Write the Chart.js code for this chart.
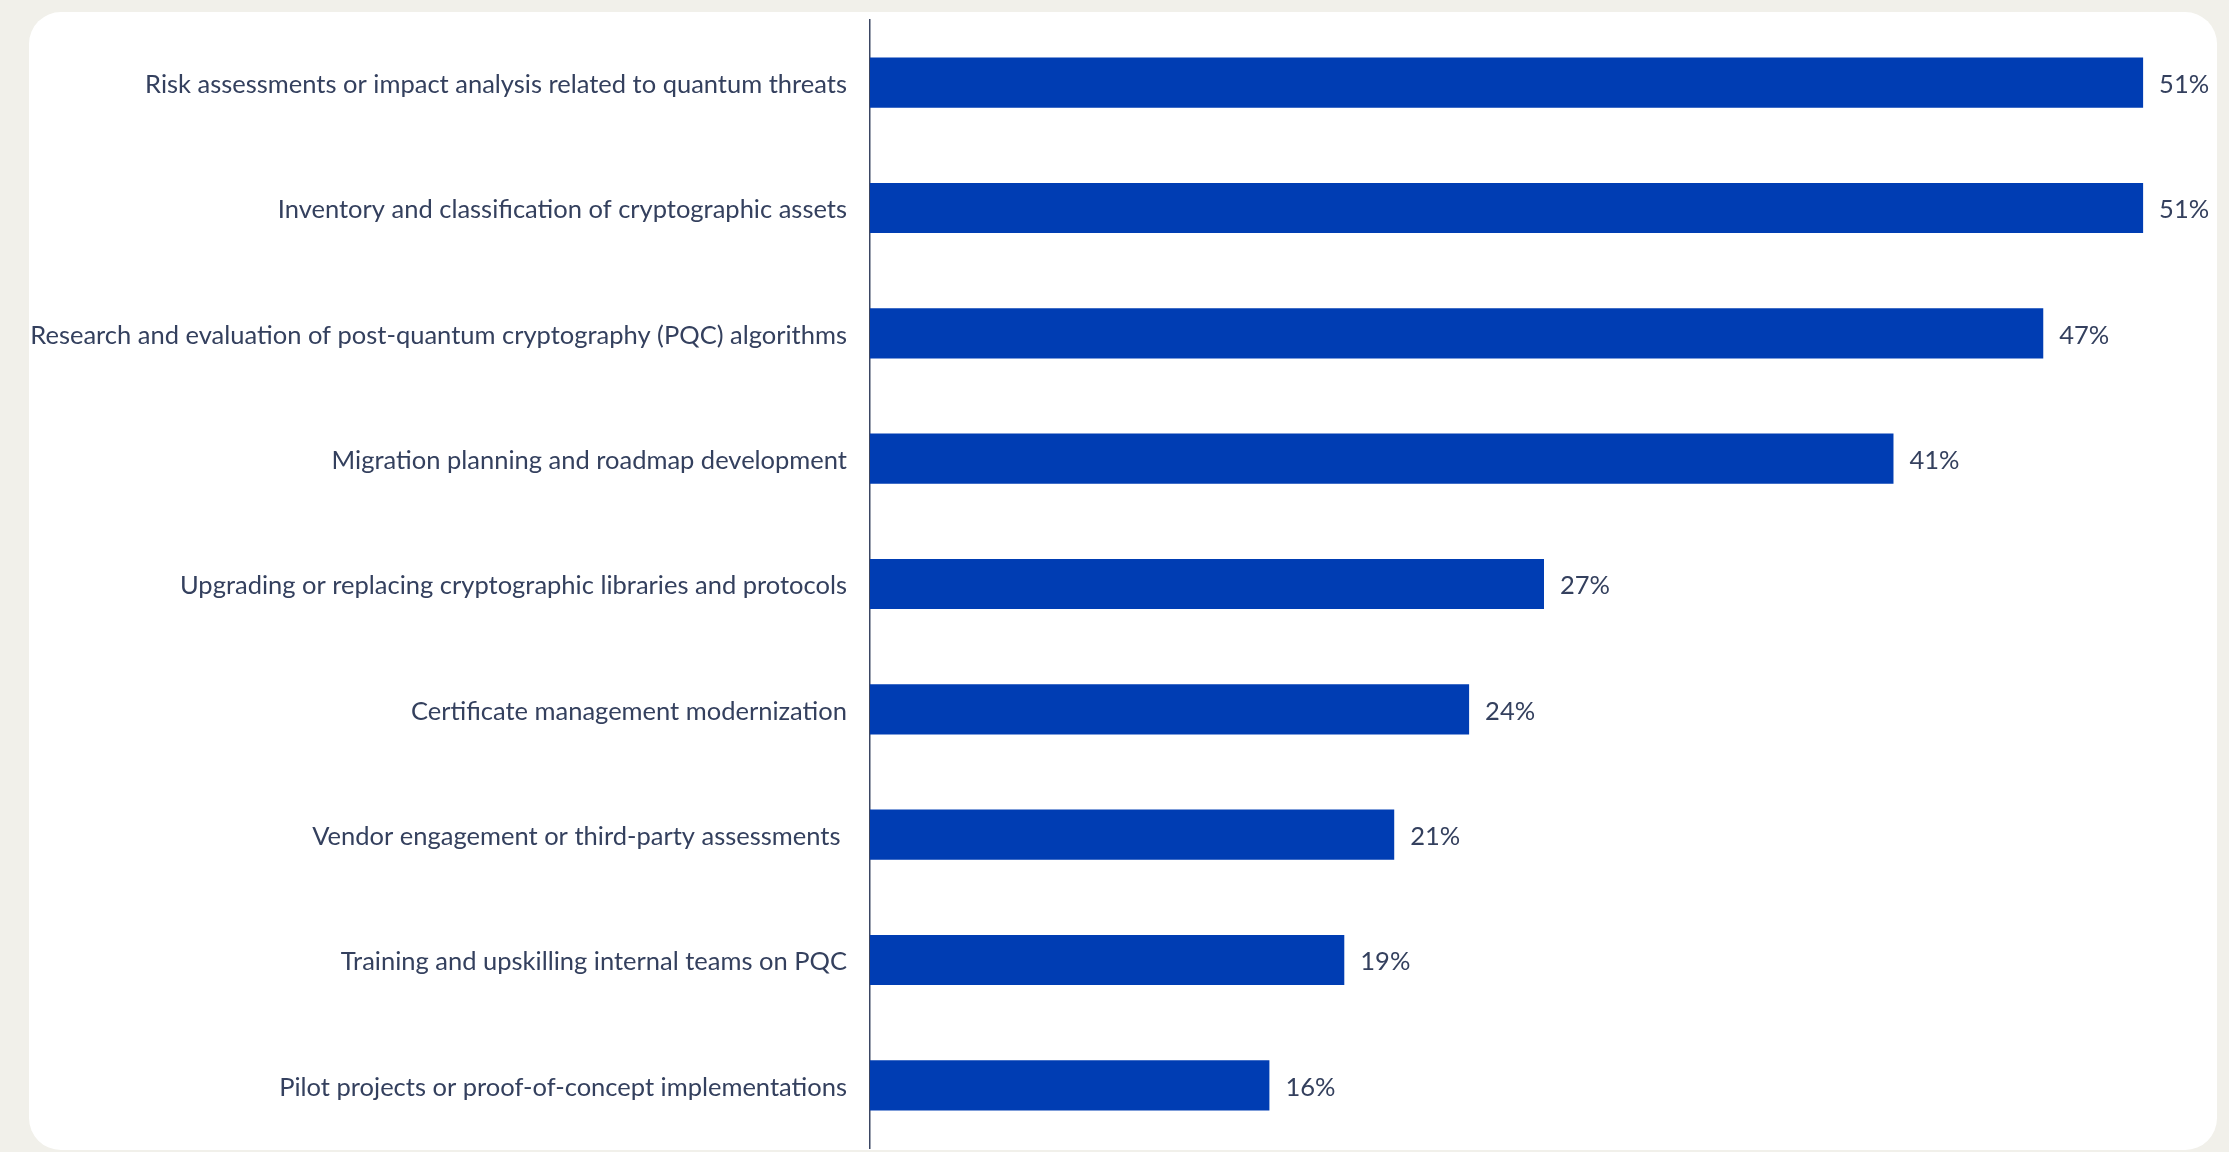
<!DOCTYPE html>
<html>
<head>
<meta charset="utf-8">
<script src="https://cdn.jsdelivr.net/npm/chart.js@4.4.1/dist/chart.umd.min.js"></script>
<style>
    html, body {
        margin: 0;
        padding: 0;
        background: #f1f0ea;
        width: 2229px;
        height: 1152px;
        overflow: hidden;
    }
    .card {
        position: absolute;
        left: 29px;
        top: 12px;
        width: 2188px;
        height: 1138px;
        background: #ffffff;
        border-radius: 32px;
    }
    .chart-wrap {
        position: absolute;
        left: 0;
        top: 0;
        width: 2229px;
        height: 1152px;
    }
</style>
</head>
<body>
<div class="card"></div>
<div class="chart-wrap"><canvas id="chartCanvas"></canvas></div>
<script>
const categories = [
    'Risk assessments or impact analysis related to quantum threats',
    'Inventory and classification of cryptographic assets',
    'Research and evaluation of post-quantum cryptography (PQC) algorithms',
    'Migration planning and roadmap development',
    'Upgrading or replacing cryptographic libraries and protocols',
    'Certificate management modernization',
    'Vendor engagement or third-party assessments ',
    'Training and upskilling internal teams on PQC',
    'Pilot projects or proof-of-concept implementations'
];
const shares = [51, 51, 47, 41, 27, 24, 21, 19, 16];

const textColor = '#34405e';
const barColor = '#003db3';
const fontFamily = 'Lato, "Open Sans", sans-serif';
const fontSize = 25.5;

// value labels to the right of each bar
const valueLabels = {
    id: 'valueLabels',
    afterDatasetsDraw(chart) {
        const { ctx } = chart;
        const meta = chart.getDatasetMeta(0);
        ctx.save();
        ctx.font = fontSize + 'px ' + fontFamily;
        ctx.fillStyle = textColor;
        ctx.textAlign = 'left';
        ctx.textBaseline = 'middle';
        meta.data.forEach((bar, i) => {
            ctx.fillText(shares[i] + '%', bar.x + 16, bar.y + 2);
        });
        ctx.restore();
    }
};

const chartCanvas = document.getElementById('chartCanvas');

new Chart(chartCanvas, {
    type: 'bar',
    data: {
        labels: categories,
        datasets: [{
            data: shares,
            backgroundColor: barColor,
            borderWidth: 0,
            categoryPercentage: 1,
            barPercentage: 0.4
        }]
    },
    options: {
        indexAxis: 'y',
        responsive: true,
        maintainAspectRatio: false,
        animation: false,
        layout: {
            padding: { top: 20, bottom: 4, right: 11, left: 0 }
        },
        plugins: {
            legend: { display: false },
            tooltip: { enabled: false }
        },
        scales: {
            x: {
                display: false,
                min: 0,
                max: 54
            },
            y: {
                // fixed label column, no extra padding above/below the axis
                afterFit(scale) {
                    scale.width = 870;
                    scale.paddingTop = 0;
                    scale.paddingBottom = 0;
                },
                grid: { display: false, drawTicks: false },
                border: { display: true, color: '#3b4663', width: 1.5 },
                ticks: {
                    padding: 23,
                    labelOffset: 2,
                    color: textColor,
                    font: { family: fontFamily, size: fontSize }
                }
            }
        }
    },
    plugins: [valueLabels]
});
</script>
</body>
</html>
